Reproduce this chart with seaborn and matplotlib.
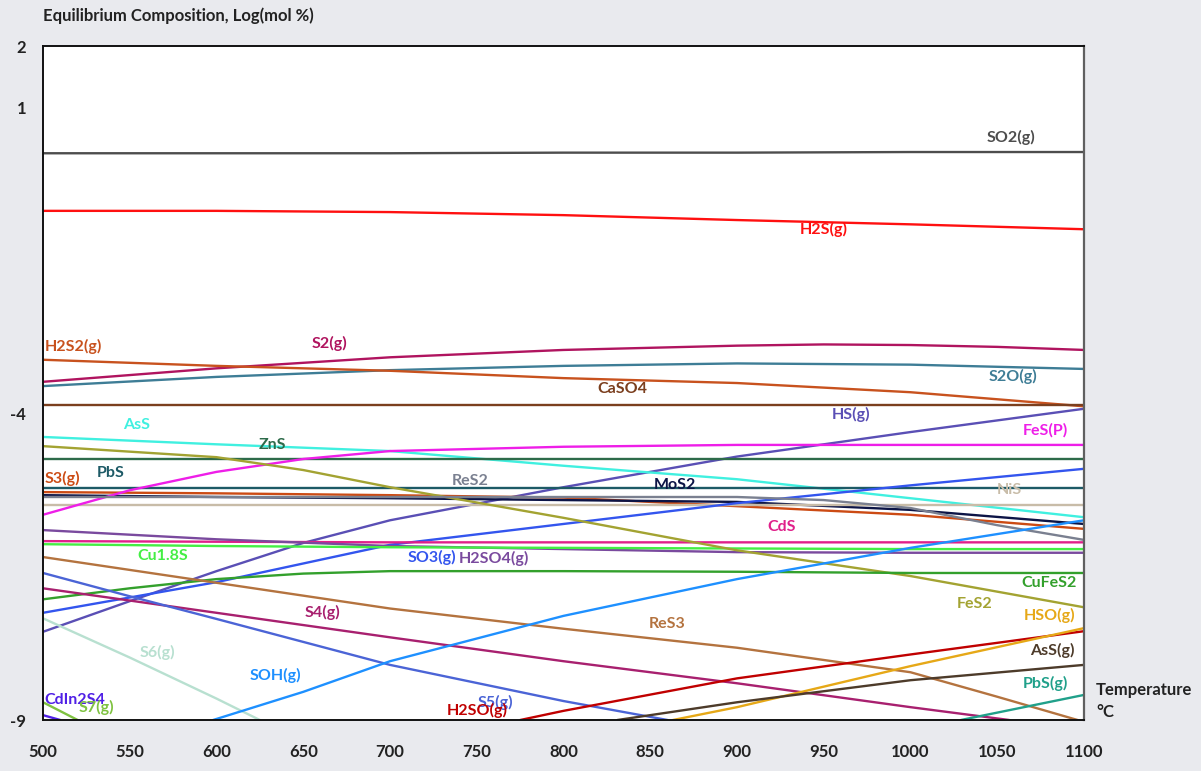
import numpy as np
import pandas as pd
import matplotlib.pyplot as plt
import seaborn as sns

# temperature grid (deg C) shared by most species
temps = [500, 600, 700, 800, 900, 1000, 1100]

# log(mol %)
so2 = [0.25, 0.25, 0.25, 0.26, 0.26, 0.27, 0.27]
h2s = [-0.69, -0.69, -0.71, -0.76, -0.84, -0.91, -0.99]
s2o = [-3.55, -3.40, -3.29, -3.22, -3.18, -3.20, -3.27]
h2s2 = [-3.12, -3.22, -3.30, -3.42, -3.50, -3.65, -3.88]
caso4 = [-3.86] * 7
ass = [-4.38, -4.50, -4.61, -4.85, -5.07, -5.38, -5.69]
zns = [-4.74] * 7
pbs = [-5.21] * 7
s3 = [-5.28, -5.30, -5.33, -5.37, -5.51, -5.65, -5.88]
mos2 = [-5.33, -5.36, -5.38, -5.41, -5.44, -5.57, -5.80]
nis = [-5.49] * 7
so3 = [-7.25, -6.75, -6.14, -5.80, -5.46, -5.17, -4.90]
cds = [-6.08, -6.09, -6.10, -6.10, -6.10, -6.10, -6.10]
h2so4 = [-5.90, -6.05, -6.16, -6.21, -6.26, -6.27, -6.27]
cu18s = [-6.13, -6.16, -6.18, -6.19, -6.20, -6.21, -6.21]

t_s2 = [500, 600, 700, 800, 900, 950, 1000, 1050, 1100]
s2 = [-3.48, -3.26, -3.08, -2.96, -2.89, -2.87, -2.88, -2.91, -2.96]
t_hs = [500, 550, 600, 650, 700, 800, 900, 1000, 1100]
hs = [-7.56, -7.06, -6.57, -6.11, -5.74, -5.20, -4.70, -4.30, -3.92]
t_fes = [500, 550, 600, 650, 700, 800, 900, 1000, 1100]
fes = [-5.65, -5.25, -4.95, -4.74, -4.61, -4.54, -4.51, -4.51, -4.51]
t_fes2 = [500, 600, 650, 700, 800, 900, 1000, 1100]
fes2 = [-4.53, -4.71, -4.92, -5.20, -5.70, -6.23, -6.65, -7.16]
t_res2 = [500, 600, 700, 800, 900, 950, 1000, 1050, 1100]
res2 = [-5.36, -5.36, -5.36, -5.36, -5.36, -5.41, -5.54, -5.82, -6.06]
t_cufes2 = [500, 550, 600, 650, 700, 800, 900, 1000, 1100]
cufes2 = [-7.03, -6.85, -6.70, -6.61, -6.57, -6.57, -6.58, -6.60, -6.60]
t_res3 = [500, 600, 700, 800, 900, 1000, 1050, 1100]
res3 = [-6.34, -6.76, -7.18, -7.51, -7.82, -8.22, -8.62, -9.03]
t_s4 = [500, 600, 700, 800, 900, 1000, 1057]
s4 = [-6.85, -7.25, -7.65, -8.04, -8.40, -8.79, -9.0]
t_s5 = [500, 550, 600, 700, 800, 860]
s5 = [-6.60, -6.98, -7.35, -8.10, -8.69, -9.0]
t_s6 = [500, 550, 600, 625]
s6 = [-7.34, -7.98, -8.65, -9.0]
t_soh = [598, 650, 700, 800, 900, 1000, 1100]
soh = [-9.0, -8.54, -8.04, -7.30, -6.70, -6.19, -5.74]
t_s7 = [500, 520]
s7 = [-8.71, -9.0]
t_cdin2s4 = [500, 510]
cdin2s4 = [-8.92, -9.0]
t_h2so = [775, 800, 900, 1000, 1100]
h2so = [-9.0, -8.85, -8.32, -7.93, -7.55]
t_hso = [863, 900, 1000, 1100]
hso = [-9.0, -8.79, -8.12, -7.50]
t_ass_g = [831, 900, 1000, 1100]
ass_g = [-9.0, -8.71, -8.35, -8.10]
t_pbs_g = [1029, 1100]
pbs_g = [-9.0, -8.59]

series = {
    "SO2(g)": (temps, so2), "H2S(g)": (temps, h2s), "S2(g)": (t_s2, s2),
    "S2O(g)": (temps, s2o), "H2S2(g)": (temps, h2s2), "CaSO4": (temps, caso4),
    "HS(g)": (t_hs, hs), "AsS": (temps, ass), "ZnS": (temps, zns),
    "PbS": (temps, pbs), "S3(g)": (temps, s3), "MoS2": (temps, mos2),
    "NiS": (temps, nis), "SO3(g)": (temps, so3), "CdS": (temps, cds),
    "H2SO4(g)": (temps, h2so4), "Cu1.8S": (temps, cu18s),
    "FeS(P)": (t_fes, fes), "FeS2": (t_fes2, fes2), "ReS2": (t_res2, res2),
    "CuFeS2": (t_cufes2, cufes2), "ReS3": (t_res3, res3), "S4(g)": (t_s4, s4),
    "S5(g)": (t_s5, s5), "S6(g)": (t_s6, s6), "SOH(g)": (t_soh, soh),
    "S7(g)": (t_s7, s7), "CdIn2S4": (t_cdin2s4, cdin2s4),
    "H2SO(g)": (t_h2so, h2so), "HSO(g)": (t_hso, hso),
    "AsS(g)": (t_ass_g, ass_g), "PbS(g)": (t_pbs_g, pbs_g),
}

colors = {
    "SO2(g)": "#4d4d4d", "H2S(g)": "#ff1010", "S2(g)": "#b0145f",
    "S2O(g)": "#3e7d96", "H2S2(g)": "#c8521e", "CaSO4": "#7b3f1e",
    "HS(g)": "#5a4fb5", "AsS": "#40f0e0", "ZnS": "#2d6b4a", "PbS": "#1d5a66",
    "S3(g)": "#cc4b14", "MoS2": "#0c1446", "NiS": "#c8bca8", "SO3(g)": "#3355ee",
    "CdS": "#e0208a", "H2SO4(g)": "#7a4a9e", "Cu1.8S": "#44ee44",
    "FeS(P)": "#ee1ee8", "FeS2": "#a3a332", "ReS2": "#7a8090",
    "CuFeS2": "#33a02c", "ReS3": "#b4733f", "S4(g)": "#a8206f",
    "S5(g)": "#4b64d6", "S6(g)": "#b8e0d0", "SOH(g)": "#1e90ff",
    "S7(g)": "#7fc241", "CdIn2S4": "#5020e6", "H2SO(g)": "#c00000",
    "HSO(g)": "#e6a817", "AsS(g)": "#4d3b2a", "PbS(g)": "#20a08a",
}

# label anchor points (T, log value, horizontal alignment)
label_pos = {
    "SO2(g)": (1058, 0.50, "center"), "H2S(g)": (950, -0.99, "center"),
    "H2S2(g)": (501, -2.90, "left"), "S2(g)": (665, -2.85, "center"),
    "S2O(g)": (1059, -3.39, "center"), "CaSO4": (834, -3.60, "center"),
    "HS(g)": (966, -4.02, "center"), "FeS(P)": (1078, -4.27, "center"),
    "AsS": (554, -4.19, "center"), "ZnS": (632, -4.51, "center"),
    "S3(g)": (501, -5.05, "left"), "PbS": (539, -4.97, "center"),
    "ReS2": (746, -5.10, "center"), "MoS2": (864, -5.17, "center"),
    "NiS": (1057, -5.25, "center"), "CdS": (926, -5.85, "center"),
    "SO3(g)": (724, -6.34, "center"), "H2SO4(g)": (760, -6.36, "center"),
    "Cu1.8S": (569, -6.32, "center"), "CuFeS2": (1080, -6.76, "center"),
    "FeS2": (1037, -7.11, "center"), "HSO(g)": (1080, -7.29, "center"),
    "ReS3": (860, -7.43, "center"), "S4(g)": (661, -7.24, "center"),
    "S6(g)": (566, -7.89, "center"), "SOH(g)": (634, -8.28, "center"),
    "S5(g)": (761, -8.71, "center"), "H2SO(g)": (750, -8.85, "center"),
    "AsS(g)": (1082, -7.87, "center"), "PbS(g)": (1078, -8.41, "center"),
    "CdIn2S4": (501, -8.67, "left"), "S7(g)": (531, -8.80, "center"),
}

rows = []
for name, (tt, vv) in series.items():
    for t, v in zip(tt, vv):
        rows.append({"species": name, "T": t, "logc": v})
df = pd.DataFrame(rows)

sns.set_style("white")
plt.rcParams["font.family"] = ["Lato", "DejaVu Sans"]
plt.rcParams["font.weight"] = "bold"
plt.rcParams["axes.unicode_minus"] = False

fig = plt.figure(figsize=(12.01, 7.71), dpi=100)
fig.patch.set_facecolor("#e9eaee")
ax = fig.add_axes([0.0358, 0.0661, 0.8668, 0.8742])
ax.set_facecolor("white")

sns.lineplot(data=df, x="T", y="logc", hue="species", palette=colors,
             estimator=None, sort=True, linewidth=1.7, legend=False, ax=ax)

for name, (tx, ty, ha) in label_pos.items():
    ax.text(tx, ty, name, color=colors[name], fontsize=11.5, fontweight="bold",
            ha=ha, va="center")

ax.set_xlim(500, 1100)
ax.set_ylim(-9, 2)
ax.set_xticks(np.arange(500, 1101, 50))
ax.set_yticks([2, 1, -4, -9])
ax.set_xlabel("")
ax.set_ylabel("")
ax.tick_params(axis="both", direction="out", length=9, width=1.3,
               color="#222222", labelsize=12, labelcolor="#222222")
ax.tick_params(axis="x", pad=8)
ax.tick_params(axis="y", pad=3)
for lab in ax.get_xticklabels() + ax.get_yticklabels():
    lab.set_fontweight("bold")
for side in ["left", "top", "bottom"]:
    ax.spines[side].set_color("#111111")
    ax.spines[side].set_linewidth(1.4)
ax.spines["right"].set_color("#606060")
ax.spines["right"].set_linewidth(1.6)

fig.text(0.036, 0.979, "Equilibrium Composition, Log(mol %)", fontsize=12,
         fontweight="bold", color="#222222", va="center", ha="left")
fig.text(0.9126, 0.105, "Temperature", fontsize=12, fontweight="bold",
         color="#222222", va="center", ha="left")
fig.text(0.9126, 0.0765, "°C", fontsize=12, fontweight="bold",
         color="#222222", va="center", ha="left")

fig.savefig("out.png", dpi=100, facecolor=fig.get_facecolor())
